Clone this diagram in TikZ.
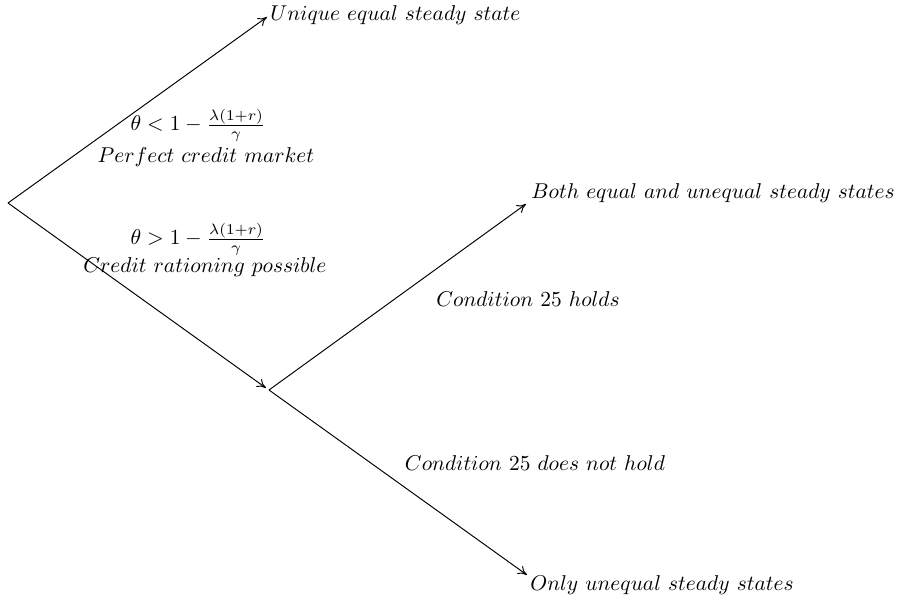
\documentclass[tikz,border=0pt]{standalone}
\usetikzlibrary{arrows.meta}
\begin{document}
\begin{tikzpicture}[x=0.467pt,y=-0.467pt,
  >={Computer Modern Rightarrow[length=4.2pt,width=4.4pt]},
  lbl/.style={inner sep=0pt},
  arr/.style={->, line width=0.45pt},
  seg/.style={line width=0.45pt}]
\useasboundingbox (0,0) rectangle (902,602);
% branching points
\coordinate (root) at (8,203);
\coordinate (mid) at (266,388);
\coordinate (midout) at (269,390);
% arrow tips
\coordinate (uniqtip) at (267,17);
\coordinate (bothtip) at (526,204);
\coordinate (onlytip) at (527,575);
% outcome nodes
\node[lbl, anchor=west] (uniq) at (270,15) {$Unique\ equal\ steady\ state$};
\node[lbl, anchor=west] (both) at (531,193) {$Both\ equal\ and\ unequal\ steady\ states$};
\node[lbl, anchor=west] (only) at (530,585) {$Only\ unequal\ steady\ states$};
% branch labels
\node[lbl] (f1) at (198,125) {$\theta < 1-\frac{\lambda(1+r)}{\gamma}$};
\node[lbl] (t1) at (206,157) {$Perfect\ credit\ market$};
\node[lbl] (f2) at (198,239) {$\theta > 1-\frac{\lambda(1+r)}{\gamma}$};
\node[lbl] (t2) at (205,267) {$Credit\ rationing\ possible$};
\node[lbl] (c1) at (528,299) {$Condition\ 25\ holds$};
\node[lbl] (c2) at (535,463) {$Condition\ 25\ does\ not\ hold$};
% connectors
\draw[arr] (root) -- (uniqtip);
\draw[arr] (root) -- (mid);
\draw[arr] (midout) -- (bothtip);
\draw[arr] (midout) -- (onlytip);
\end{tikzpicture}
\end{document}
